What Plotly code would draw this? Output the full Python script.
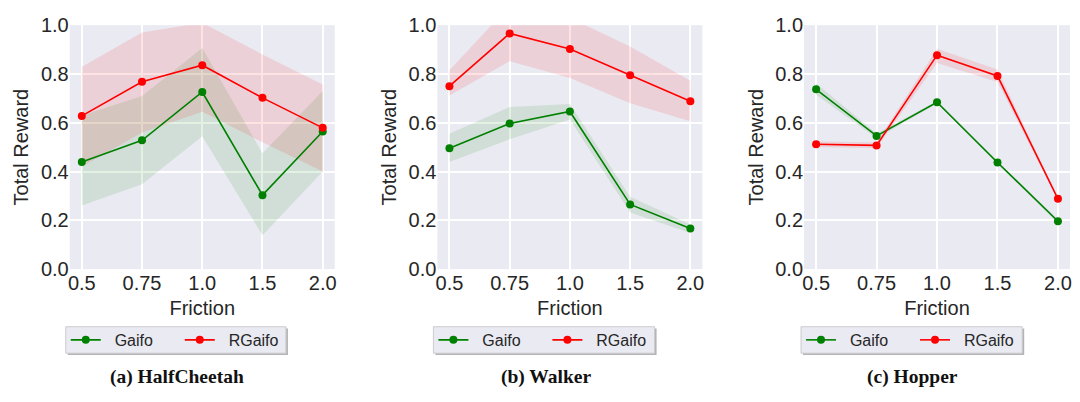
import plotly.graph_objects as go

friction = ["0.5", "0.75", "1.0", "1.5", "2.0"]
captions = ["(a) HalfCheetah", "(b) Walker", "(c) Hopper"]

# HalfCheetah
hc_gaifo = [0.439, 0.528, 0.726, 0.303, 0.564]
hc_gaifo_lo = [0.261, 0.348, 0.545, 0.139, 0.400]
hc_gaifo_hi = [0.630, 0.710, 0.906, 0.475, 0.730]
hc_rgaifo = [0.628, 0.768, 0.836, 0.702, 0.579]
hc_rgaifo_lo = [0.420, 0.560, 0.645, 0.520, 0.400]
hc_rgaifo_hi = [0.830, 0.970, 1.010, 0.880, 0.757]

# Walker
wk_gaifo = [0.495, 0.597, 0.646, 0.265, 0.166]
wk_gaifo_lo = [0.439, 0.532, 0.613, 0.232, 0.148]
wk_gaifo_hi = [0.555, 0.665, 0.677, 0.297, 0.183]
wk_rgaifo = [0.750, 0.966, 0.902, 0.795, 0.688]
wk_rgaifo_lo = [0.712, 0.852, 0.783, 0.680, 0.606]
wk_rgaifo_hi = [0.815, 1.080, 1.030, 0.913, 0.772]

# Hopper
hp_gaifo = [0.737, 0.546, 0.684, 0.437, 0.196]
hp_gaifo_lo = [0.715, 0.536, 0.679, 0.432, 0.188]
hp_gaifo_hi = [0.762, 0.556, 0.689, 0.442, 0.204]
hp_rgaifo = [0.512, 0.507, 0.877, 0.792, 0.288]
hp_rgaifo_lo = [0.500, 0.495, 0.845, 0.767, 0.283]
hp_rgaifo_hi = [0.524, 0.519, 0.903, 0.818, 0.293]

panels = [
    (hc_gaifo, hc_gaifo_lo, hc_gaifo_hi, hc_rgaifo, hc_rgaifo_lo, hc_rgaifo_hi),
    (wk_gaifo, wk_gaifo_lo, wk_gaifo_hi, wk_rgaifo, wk_rgaifo_lo, wk_rgaifo_hi),
    (hp_gaifo, hp_gaifo_lo, hp_gaifo_hi, hp_rgaifo, hp_rgaifo_lo, hp_rgaifo_hi),
]

W, H = 1080, 402
x_domains = [(68, 334), (437, 703), (805, 1072)]
y_top, y_bot = 15, 273
legend_boxes = [(64, 285), (433, 655), (802, 1024)]
legend_top, legend_bot = 334, 362
caption_x = [176, 546, 914]
caption_y = 387

BG = "#EAEAF2"
FONT = "Liberation Sans, Arial, sans-serif"
TXT = "#262626"

fig = go.Figure()
layout = dict(
    width=W, height=H,
    margin=dict(l=0, r=0, t=0, b=0),
    paper_bgcolor="white",
    plot_bgcolor=BG,
    showlegend=True,
    font=dict(family=FONT, color=TXT),
)

series = [("Gaifo", "green", "rgba(0,128,0,0.11)"), ("RGaifo", "red", "rgba(255,0,0,0.11)")]

for i, data in enumerate(panels):
    ax = "" if i == 0 else str(i + 1)
    xref, yref = "x" + ax, "y" + ax
    leg = "legend" if i == 0 else "legend" + str(i + 1)
    for s, (name, col, fillc) in enumerate(series):
        lo, hi = data[3 * s + 1], data[3 * s + 2]
        fig.add_trace(go.Scatter(
            x=friction + friction[::-1], y=hi + lo[::-1],
            fill="toself", fillcolor=fillc, line=dict(width=0),
            mode="lines", hoverinfo="skip", showlegend=False,
            xaxis=xref, yaxis=yref,
        ))
    for s, (name, col, fillc) in enumerate(series):
        mean = data[3 * s]
        fig.add_trace(go.Scatter(
            x=friction, y=mean, name="\u00a0\u00a0" + name, mode="lines+markers",
            line=dict(color=col, width=1.6),
            marker=dict(color=col, size=8),
            xaxis=xref, yaxis=yref, legend=leg,
        ))
    x0, x1 = x_domains[i]
    layout["xaxis" + ax] = dict(
        domain=[x0 / W, x1 / W], anchor=yref,
        type="category", categoryorder="array", categoryarray=friction,
        range=[-0.2, 4.2], showgrid=True, gridcolor="white", gridwidth=1.5,
        showline=False, zeroline=False, ticks="",
        tickfont=dict(size=20, family=FONT, color=TXT),
        title=dict(text="Friction", font=dict(size=20, family=FONT, color=TXT), standoff=7),
    )
    layout["yaxis" + ax] = dict(
        domain=[1 - y_bot / H, 1 - y_top / H], anchor=xref,
        range=[0, 1.0], dtick=0.2, tickformat=".1f",
        showgrid=True, gridcolor="white", gridwidth=1.5,
        showline=False, zeroline=False, ticks="",
        tickfont=dict(size=20, family=FONT, color=TXT),
        title=dict(text="Total Reward", font=dict(size=20, family=FONT, color=TXT), standoff=6),
    )
    lx0, lx1 = legend_boxes[i]
    layout[leg] = dict(
        x=lx0 / W, y=1 - (legend_top + legend_bot) / 2 / H, xanchor="left", yanchor="middle",
        orientation="h", bgcolor="rgba(0,0,0,0)", borderwidth=0,
        font=dict(size=16, family=FONT, color=TXT),
        entrywidth=69, itemsizing="trace",
    )

shapes = []
annotations = []
for i in range(3):
    lx0, lx1 = legend_boxes[i]
    shapes.append(dict(
        type="rect", xref="paper", yref="paper",
        x0=(lx0 + 2) / W, x1=(lx1 + 2) / W,
        y0=1 - (legend_bot + 2) / H, y1=1 - (legend_top + 2) / H,
        fillcolor="#b4b4b4", line=dict(width=0), layer="above",
    ))
    shapes.append(dict(
        type="rect", xref="paper", yref="paper",
        x0=lx0 / W, x1=lx1 / W,
        y0=1 - legend_bot / H, y1=1 - legend_top / H,
        fillcolor=BG, line=dict(width=1, color="#cccccc"), layer="above",
    ))
    annotations.append(dict(
        text="<b>" + captions[i] + "</b>", x=caption_x[i] / W, y=1 - caption_y / H,
        xref="paper", yref="paper", xanchor="center", yanchor="middle", showarrow=False,
        font=dict(size=19.5, family="Liberation Serif, Times New Roman, serif", color="#111111"),
    ))
layout["shapes"] = shapes
layout["annotations"] = annotations
fig.update_layout(**layout)
fig.write_html("out.html")
